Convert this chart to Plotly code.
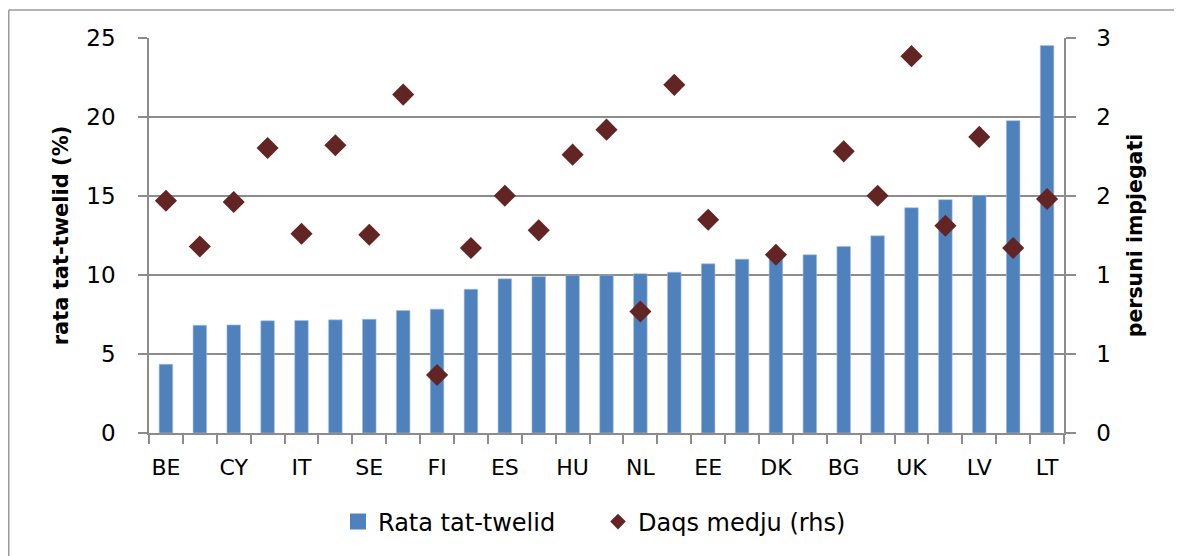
import plotly.graph_objects as go

# ---- data ----
categories = ["BE", "", "CY", "", "IT", "", "SE", "", "FI", "", "ES", "", "HU", "",
              "NL", "", "EE", "", "DK", "", "BG", "", "UK", "", "LV", "", "LT"]
rate_values = [4.35, 6.82, 6.84, 7.10, 7.12, 7.16, 7.20, 7.75, 7.84, 9.10, 9.76, 9.90,
               9.99, 9.99, 10.08, 10.18, 10.71, 11.00, 11.20, 11.28, 11.81, 12.48,
               14.26, 14.77, 15.04, 19.77, 24.52]
size_values = [1.764, 1.417, 1.754, 2.165, 1.513, 2.185, 1.506, 2.570, 0.441, 1.405,
               1.802, 1.539, 2.114, 2.304, 0.923, 2.644, 1.620, None, 1.354, None,
               2.139, 1.802, 2.862, 1.574, 2.249, 1.405, 1.777]
series_names = ["Rata tat-twelid", "Daqs medju (rhs)"]
left_title = "rata tat-twelid (%)"
right_title = "persuni impjegati"

x_pos = list(range(len(categories)))
tick_positions = [i for i, c in enumerate(categories) if c]
tick_labels = [c for c in categories if c]

FONT = "'DejaVu Sans', sans-serif"
AXIS = "#8c8c8c"
BLUE = "#4F81BD"
RED = "#632523"

# page body has an 8px margin: plot area should land at x 149..1064, y 38..433 on screen
W, H = 1174, 548
L, T = 141, 30
R, B = W - (1064 - 8), H - (433 - 8)
PW, PH = W - L - R, H - T - B

fig = go.Figure()
fig.add_trace(go.Bar(
    x=x_pos, y=rate_values, name=series_names[0], width=0.4, showlegend=False,
    marker=dict(color=BLUE, line=dict(color="#a7bfdd", width=0.6)),
    yaxis="y",
))
fig.add_trace(go.Scatter(
    x=x_pos, y=size_values, name=series_names[1], mode="markers", showlegend=False,
    marker=dict(symbol="diamond", size=17, color=RED),
    yaxis="y2",
))
# legend entries (symbols sized like the original legend)
fig.add_trace(go.Scatter(x=[None], y=[None], name=series_names[0], mode="markers",
                         marker=dict(symbol="square", size=16, color=BLUE)))
fig.add_trace(go.Scatter(x=[None], y=[None], name=series_names[1], mode="markers",
                         marker=dict(symbol="diamond", size=12, color=RED), yaxis="y2"))

border = dict(color="#9a9a9a", width=1.5)
fig.update_layout(
    width=W, height=H,
    margin=dict(l=L, r=R, t=T, b=B, autoexpand=False),
    paper_bgcolor="white", plot_bgcolor="white",
    font=dict(family=FONT, size=22, color="#000000"),
    showlegend=True,
    legend=dict(orientation="h", x=(338 - 8 - L) / PW, xanchor="left",
                y=(425 - 514) / PH, yanchor="middle",
                font=dict(size=24), entrywidth=215, itemsizing="trace",
                bgcolor="rgba(0,0,0,0)"),
    xaxis=dict(
        range=[-0.5, len(categories) - 0.5],
        tickmode="array", tickvals=tick_positions, ticktext=tick_labels,
        ticks="", showgrid=False, zeroline=False,
        showline=True, linecolor=AXIS, linewidth=1.5,
        tickfont=dict(size=22), ticklabelstandoff=14,
        minor=dict(tickmode="linear", tick0=-0.5, dtick=1, ticks="outside",
                   ticklen=9, tickwidth=1.5, tickcolor=AXIS, showgrid=False),
    ),
    yaxis=dict(
        range=[0, 25], tick0=0, dtick=5,
        showgrid=True, gridcolor=AXIS, gridwidth=1.5,
        zeroline=False, showline=True, linecolor=AXIS, linewidth=1.5,
        ticks="outside", ticklen=9, tickwidth=1.5, tickcolor=AXIS,
        tickfont=dict(size=23), ticklabelstandoff=18,
        title=dict(text="<b>" + left_title + "</b>", font=dict(size=21), standoff=12),
    ),
    yaxis2=dict(
        range=[0, 3], tick0=0, dtick=0.6, tickformat=".0f",
        overlaying="y", side="right", showgrid=False, zeroline=False,
        showline=True, linecolor=AXIS, linewidth=1.5,
        ticks="outside", ticklen=10, tickwidth=1.5, tickcolor=AXIS,
        tickfont=dict(size=23), ticklabelstandoff=16,
        title=dict(text="<b>" + right_title + "</b>", font=dict(size=20.5), standoff=18),
    ),
    shapes=[
        dict(type="line", xref="paper", yref="paper",
             x0=(0.75 - L) / PW, x1=(0.75 - L) / PW, y0=(425 - 600) / PH, y1=(425 - 2) / PH,
             line=border, layer="below"),
        dict(type="line", xref="paper", yref="paper",
             x0=(0.75 - L) / PW, x1=(W + 20 - L) / PW, y0=(425 - 2) / PH, y1=(425 - 2) / PH,
             line=border, layer="below"),
    ],
)

fig.write_html("out.html")
